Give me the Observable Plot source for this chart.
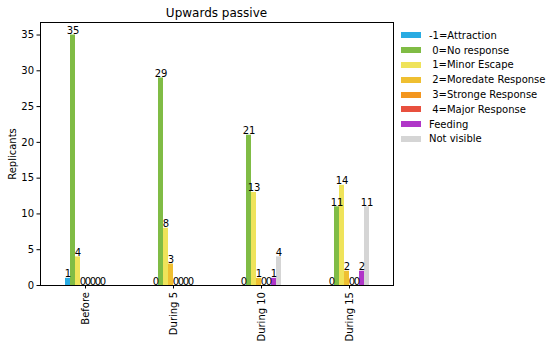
<!DOCTYPE html>
<html><head><meta charset="utf-8">
<script src="https://cdn.jsdelivr.net/npm/d3@7"></script>
<script src="https://cdn.jsdelivr.net/npm/@observablehq/plot@0.6"></script>
<style>
body{margin:0;background:#fff;font-family:"DejaVu Sans",sans-serif;}
#wrap{position:relative;width:555px;height:361px;}
#wrap svg{position:absolute;left:0;top:0;}
#title{position:absolute;left:40px;width:353px;top:6px;text-align:center;font-size:12px;color:#000;}
#legend{position:absolute;left:401px;top:28px;font-size:10px;color:#000;}
.row{display:flex;align-items:center;height:14.8px;white-space:pre;}
.sw{width:20px;height:6px;margin-right:8px;flex:none;}
</style></head><body><div id="wrap"><div id="title">Upwards passive</div><div id="legend"></div></div>
<script>
const groups = ["Before", "During 5", "During 10", "During 15"];
const series = ["-1=Attraction", " 0=No response", " 1=Minor Escape", " 2=Moredate Response", " 3=Stronge Response", " 4=Major Response", "Feeding", "Not visible"];
const colors = ["#29abe2", "#80bc45", "#efe35a", "#efbf31", "#f3961f", "#e8503e", "#b036c8", "#d5d5d5"];
const attraction = [1, 0, 0, 0];
const noResponse = [35, 29, 21, 11];
const minorEscape = [4, 8, 13, 14];
const moderate = [0, 3, 1, 2];
const strong = [0, 0, 0, 0];
const major = [0, 0, 0, 0];
const feeding = [0, 0, 1, 2];
const notVisible = [0, 0, 4, 11];
const yTicks = [0, 5, 10, 15, 20, 25, 30, 35];
const yLabel = "Replicants";

const values = [attraction, noResponse, minorEscape, moderate, strong, major, feeding, notVisible];
const data = [];
groups.forEach((g, i) => series.forEach((s, j) => data.push({group: g, series: s, value: values[j][i]})));

const layout = {width: 555, height: 361, marginTop: 22, marginBottom: 76, marginLeft: 40, marginRight: 162};
const yScale = {domain: [0, 36.75]};
const font = {fontFamily: "DejaVu Sans", fontSize: "10px", color: "#000", background: "transparent"};

// bars, value labels and group axis
const chart = Plot.plot({
  ...layout,
  style: font,
  fx: {domain: groups, paddingInner: 0.5, paddingOuter: 0.25},
  x: {domain: series, padding: 0, axis: null},
  y: {...yScale, axis: null},
  color: {domain: series, range: colors},
  marks: [
    Plot.barY(data, {fx: "group", x: "series", y: "value", fill: "series"}),
    Plot.text(data, {fx: "group", x: "series", y: "value", text: d => String(d.value), lineAnchor: "bottom", dy: -1, fontSize: 10, fill: "#000"}),
    Plot.axisFx({anchor: "bottom", label: null, tickRotate: -90, tickSize: 3.5, tickPadding: 3, fontSize: 10})
  ]
});

// y axis and axes frame over the whole plotting area
const frame = Plot.plot({
  ...layout,
  style: font,
  y: yScale,
  marks: [
    Plot.axisY({ticks: yTicks, tickSize: 3.5, tickPadding: 3, fontSize: 10, label: yLabel, labelAnchor: "center", labelArrow: "none", labelOffset: 32}),
    Plot.frame({stroke: "#000", strokeWidth: 1})
  ]
});
const wrap = document.getElementById("wrap");
wrap.insertBefore(chart, wrap.firstChild);
wrap.insertBefore(frame, chart.nextSibling);

const legend = document.getElementById("legend");
series.forEach((s, j) => {
  const row = document.createElement("div");
  row.className = "row";
  const sw = document.createElement("div");
  sw.className = "sw";
  sw.style.background = colors[j];
  const t = document.createElement("span");
  t.textContent = s;
  row.appendChild(sw); row.appendChild(t);
  legend.appendChild(row);
});
</script></body></html>
